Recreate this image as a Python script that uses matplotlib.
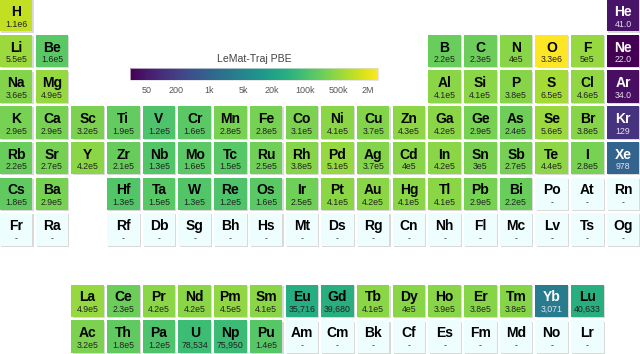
import matplotlib
matplotlib.use("Agg")
import matplotlib.pyplot as plt
from matplotlib.colors import LogNorm
from matplotlib.patches import Rectangle
import matplotlib.cm as cm
import numpy as np

plt.rcParams['font.family'] = ['Liberation Sans', 'DejaVu Sans']

# (symbol, column, row) grid layout
symbols = ["H","He","Li","Be","B","C","N","O","F","Ne",
           "Na","Mg","Al","Si","P","S","Cl","Ar",
           "K","Ca","Sc","Ti","V","Cr","Mn","Fe","Co","Ni","Cu","Zn","Ga","Ge","As","Se","Br","Kr",
           "Rb","Sr","Y","Zr","Nb","Mo","Tc","Ru","Rh","Pd","Ag","Cd","In","Sn","Sb","Te","I","Xe",
           "Cs","Ba","Hf","Ta","W","Re","Os","Ir","Pt","Au","Hg","Tl","Pb","Bi","Po","At","Rn",
           "Fr","Ra","Rf","Db","Sg","Bh","Hs","Mt","Ds","Rg","Cn","Nh","Fl","Mc","Lv","Ts","Og",
           "La","Ce","Pr","Nd","Pm","Sm","Eu","Gd","Tb","Dy","Ho","Er","Tm","Yb","Lu",
           "Ac","Th","Pa","U","Np","Pu","Am","Cm","Bk","Cf","Es","Fm","Md","No","Lr"]
columns = ([0, 17] + [0, 1] + list(range(12, 18)) + [0, 1] + list(range(12, 18))
           + list(range(18)) + list(range(18))
           + [0, 1] + list(range(3, 18)) + [0, 1] + list(range(3, 18))
           + list(range(2, 17)) + list(range(2, 17)))
rows = ([0] * 2 + [1] * 8 + [2] * 8 + [3] * 18 + [4] * 18 + [5] * 17 + [6] * 17
        + [8] * 15 + [9] * 15)

counts = {
    "H": 1.1e6, "He": 41,
    "Li": 5.5e5, "Be": 1.6e5, "B": 2.2e5, "C": 2.3e5, "N": 4e5, "O": 3.3e6, "F": 5e5, "Ne": 22,
    "Na": 3.6e5, "Mg": 4.9e5, "Al": 4.1e5, "Si": 4.1e5, "P": 3.8e5, "S": 6.5e5, "Cl": 4.6e5, "Ar": 34,
    "K": 2.9e5, "Ca": 2.9e5, "Sc": 3.2e5, "Ti": 1.9e5, "V": 1.2e5, "Cr": 1.6e5, "Mn": 2.8e5,
    "Fe": 2.8e5, "Co": 3.1e5, "Ni": 4.1e5, "Cu": 3.7e5, "Zn": 4.3e5, "Ga": 4.2e5, "Ge": 2.9e5,
    "As": 2.4e5, "Se": 5.6e5, "Br": 3.8e5, "Kr": 129,
    "Rb": 2.2e5, "Sr": 2.7e5, "Y": 4.2e5, "Zr": 2.1e5, "Nb": 1.3e5, "Mo": 1.6e5, "Tc": 1.5e5,
    "Ru": 2.5e5, "Rh": 3.8e5, "Pd": 5.1e5, "Ag": 3.7e5, "Cd": 4e5, "In": 4.2e5, "Sn": 3e5,
    "Sb": 2.7e5, "Te": 4.4e5, "I": 2.8e5, "Xe": 978,
    "Cs": 1.8e5, "Ba": 2.9e5, "Hf": 1.3e5, "Ta": 1.5e5, "W": 1.3e5, "Re": 1.2e5, "Os": 1.6e5,
    "Ir": 2.5e5, "Pt": 4.1e5, "Au": 4.2e5, "Hg": 4.1e5, "Tl": 4.1e5, "Pb": 2.9e5, "Bi": 2.2e5,
    "La": 4.9e5, "Ce": 2.3e5, "Pr": 4.2e5, "Nd": 4.2e5, "Pm": 4.5e5, "Sm": 4.1e5, "Eu": 35716,
    "Gd": 39680, "Tb": 4.1e5, "Dy": 4e5, "Ho": 3.9e5, "Er": 3.8e5, "Tm": 3.8e5, "Yb": 3071,
    "Lu": 40633,
    "Ac": 3.2e5, "Th": 1.8e5, "Pa": 1.2e5, "U": 78534, "Np": 75950, "Pu": 1.4e5,
}

cbar_ticks = [50, 200, 1e3, 5e3, 2e4, 1e5, 5e5, 2e6]
cbar_ticklabels = ["50", "200", "1k", "5k", "20k", "100k", "500k", "2M"]
cbar_title = "LeMat-Traj PBE"

vmin, vmax = min(counts.values()), max(counts.values())
norm = LogNorm(vmin=vmin, vmax=vmax)
cmap = plt.get_cmap("viridis")
empty_color = "#eefdfd"


def fmt(v):
    if v < 100:
        return f"{v:.1f}"
    if v < 1e5:
        return f"{int(round(v)):,}"
    s = f"{v:.2g}"
    return s.replace("e+0", "e").replace("e+", "e")


W, H = 640, 354
fig = plt.figure(figsize=(W / 100, H / 100), dpi=100)
ax = fig.add_axes([0, 0, 1, 1])
pitch = 35.7          # pixels per grid unit
cw = 32.4 / pitch     # cell size in grid units
yoff = -1.0 / pitch
ax.set_xlim(0, W / pitch)
ax.set_ylim(H / pitch, 0)
ax.axis("off")

for sym, c, r in zip(symbols, columns, rows):
    v = counts.get(sym)
    x0, y0 = c, r + yoff
    sh = 1.2 / pitch
    ax.add_patch(Rectangle((x0 + sh, y0 + sh), cw, cw, facecolor="#d9d9d9", edgecolor="none", zorder=1))
    if v is None:
        fc = empty_color
        tc, vc = "black", "#333333"
        label = "-"
    else:
        fc = cmap(norm(v))
        dark = norm(v) < 0.5
        tc = "white" if dark else "black"
        vc = "#e6e0f0" if dark else "#222222"
        label = fmt(v)
    ax.add_patch(Rectangle((x0, y0), cw, cw, facecolor=fc, edgecolor="none", zorder=2))
    ax.text(x0 + cw / 2, y0 + cw * 0.52, sym, ha="center", va="baseline",
            fontsize=10, fontweight="bold", color=tc, zorder=3)
    ax.text(x0 + cw / 2, y0 + cw * 0.85, label, ha="center", va="baseline",
            fontsize=6.3, color=vc, zorder=3)

cax = fig.add_axes([130 / W, 1 - 80 / H, 248 / W, 12 / H])
sm = cm.ScalarMappable(norm=norm, cmap=cmap)
cb = fig.colorbar(sm, cax=cax, orientation="horizontal")
cb.set_ticks(cbar_ticks)
cb.set_ticklabels(cbar_ticklabels)
cb.ax.minorticks_off()
cb.ax.tick_params(length=0, labelsize=6.5, colors="#555555", pad=4)
cb.outline.set_edgecolor("#dddddd")
cb.outline.set_linewidth(0.5)
cax.set_title(cbar_title, fontsize=7.6, color="#444444", pad=4)

fig.savefig("out.png", dpi=100)
